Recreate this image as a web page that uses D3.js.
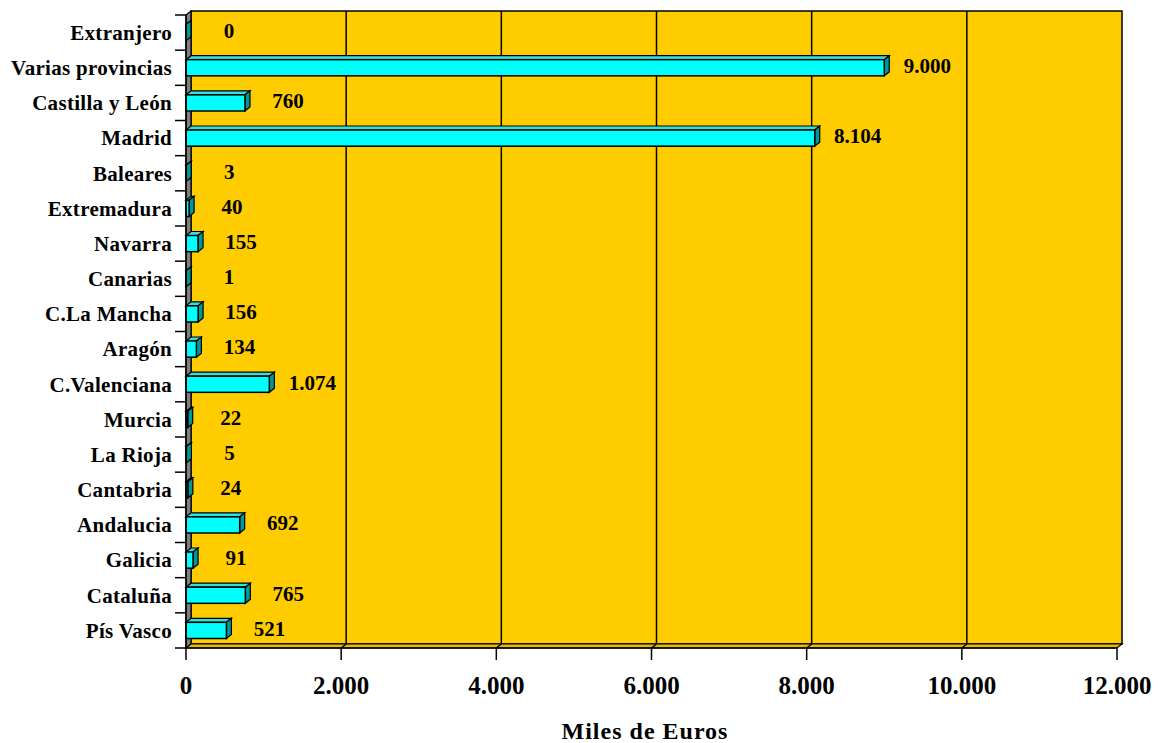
<!DOCTYPE html>
<html>
  <head>
    <title>Miles de Euros</title>
    <script src="https://d3js.org/d3.v7.min.js"></script>
    <style>
      body { margin: 0; background: #fff; }
      text { font-family: "Liberation Serif", "Times New Roman", serif; font-weight: bold; }
    </style>
  </head>

  <body>
    <svg id="plot" width="1164" height="743"></svg>

    <script>
      // data (top to bottom as drawn)
      var regiones = [
        "Extranjero", "Varias provincias", "Castilla y León", "Madrid", "Baleares",
        "Extremadura", "Navarra", "Canarias", "C.La Mancha", "Aragón",
        "C.Valenciana", "Murcia", "La Rioja", "Cantabria", "Andalucia",
        "Galicia", "Cataluña", "Pís Vasco"
      ];
      var importes = [0, 9000, 760, 8104, 3, 40, 155, 1, 156, 134, 1074, 22, 5, 24, 692, 91, 765, 521];
      var ticksX = [0, 2000, 4000, 6000, 8000, 10000, 12000];
      var tituloX = "Miles de Euros";

      var svg = d3.select("#plot");
      var x0 = 186, x1 = 1117, y0 = 15, y1 = 648;
      var dx = 5, dy = -4; // depth of the 3d box

      var x = d3.scaleLinear().domain([0, 12000]).range([x0, x1]);
      var y = d3.scaleBand().domain(regiones).range([y0, y1]).paddingInner(0.54).paddingOuter(0.27);

      var fmt = function (v) {
        return d3.format(",")(v).replace(/,/g, ".");
      };

      // back wall
      svg.append("rect")
        .attr("x", x0 + dx).attr("y", y0 + dy)
        .attr("width", x1 - x0).attr("height", y1 - y0)
        .attr("fill", "#FFCC00").attr("stroke", "#000").attr("stroke-width", 1.5);

      // left wall
      svg.append("polygon")
        .attr("points", [[x0, y0], [x0 + dx, y0 + dy], [x0 + dx, y1 + dy], [x0, y1]].join(" "))
        .attr("fill", "#808080").attr("stroke", "#000").attr("stroke-width", 1.2);

      // floor
      svg.append("polygon")
        .attr("points", [[x0, y1], [x0 + dx, y1 + dy], [x1 + dx, y1 + dy], [x1, y1]].join(" "))
        .attr("fill", "#E6B800").attr("stroke", "#000").attr("stroke-width", 1.2);

      // gridlines
      var grid = ticksX.filter(function (d) { return d > 0 && d < 12000; });
      svg.append("g").selectAll("path").data(grid).join("path")
        .attr("d", function (d) {
          return "M" + (x(d) + dx) + "," + (y0 + dy) + "V" + (y1 + dy) + "L" + x(d) + "," + y1;
        })
        .attr("fill", "none").attr("stroke", "#000").attr("stroke-width", 1.5);

      // bars
      var bars = svg.append("g").selectAll("g").data(importes).join("g");
      var bh = y.bandwidth();
      bars.append("polygon") // top face
        .attr("points", function (d, i) {
          var yb = y(regiones[i]), xe = x(d);
          return [[x0, yb], [x0 + dx, yb + dy], [xe + dx, yb + dy], [xe, yb]].join(" ");
        })
        .attr("fill", "#33E0E0").attr("stroke", "#000").attr("stroke-width", 1.2);
      bars.append("polygon") // side face
        .attr("points", function (d, i) {
          var yb = y(regiones[i]), xe = x(d);
          return [[xe, yb], [xe + dx, yb + dy], [xe + dx, yb + bh + dy], [xe, yb + bh]].join(" ");
        })
        .attr("fill", "#009999").attr("stroke", "#000").attr("stroke-width", 1.2);
      bars.append("rect") // front face
        .attr("x", x0)
        .attr("y", function (d, i) { return y(regiones[i]); })
        .attr("width", function (d) { return x(d) - x0; })
        .attr("height", bh)
        .attr("fill", "#00FFFF").attr("stroke", "#000").attr("stroke-width", 1.5);

      // value labels
      svg.append("g").selectAll("text").data(importes).join("text")
        .attr("x", function (d) { return x(d) + 43; })
        .attr("y", function (d, i) { return y(regiones[i]) + bh / 2 - 2; })
        .attr("dy", "0.35em")
        .attr("text-anchor", "middle")
        .attr("font-size", 21)
        .text(fmt);

      // y axis
      svg.append("line")
        .attr("x1", x0).attr("x2", x0).attr("y1", y0).attr("y2", y1)
        .attr("stroke", "#000").attr("stroke-width", 1.5);
      var yt = d3.range(regiones.length + 1).map(function (i) { return y0 + i * y.step(); });
      svg.append("g").selectAll("line").data(yt).join("line")
        .attr("x1", x0 - 11).attr("x2", x0)
        .attr("y1", function (d) { return d; }).attr("y2", function (d) { return d; })
        .attr("stroke", "#000").attr("stroke-width", 1.5);
      svg.append("g").selectAll("text").data(regiones).join("text")
        .attr("x", x0 - 14)
        .attr("y", function (d) { return y(d) + bh / 2; })
        .attr("dy", "0.35em")
        .attr("text-anchor", "end")
        .attr("font-size", 21)
        .attr("letter-spacing", 0.3)
        .text(function (d) { return d; });

      // x axis
      svg.append("line")
        .attr("x1", x0).attr("x2", x1).attr("y1", y1).attr("y2", y1)
        .attr("stroke", "#000").attr("stroke-width", 1.5);
      svg.append("g").selectAll("line").data(ticksX).join("line")
        .attr("x1", function (d) { return x(d); }).attr("x2", function (d) { return x(d); })
        .attr("y1", y1).attr("y2", y1 + 12)
        .attr("stroke", "#000").attr("stroke-width", 1.5);
      svg.append("g").selectAll("text").data(ticksX).join("text")
        .attr("x", function (d) { return x(d); })
        .attr("y", 694)
        .attr("text-anchor", "middle")
        .attr("font-size", 25)
        .text(fmt);

      svg.append("text")
        .attr("x", 645).attr("y", 739)
        .attr("text-anchor", "middle")
        .attr("font-size", 24)
        .attr("letter-spacing", 1)
        .text(tituloX);
    </script>
  </body>
</html>
